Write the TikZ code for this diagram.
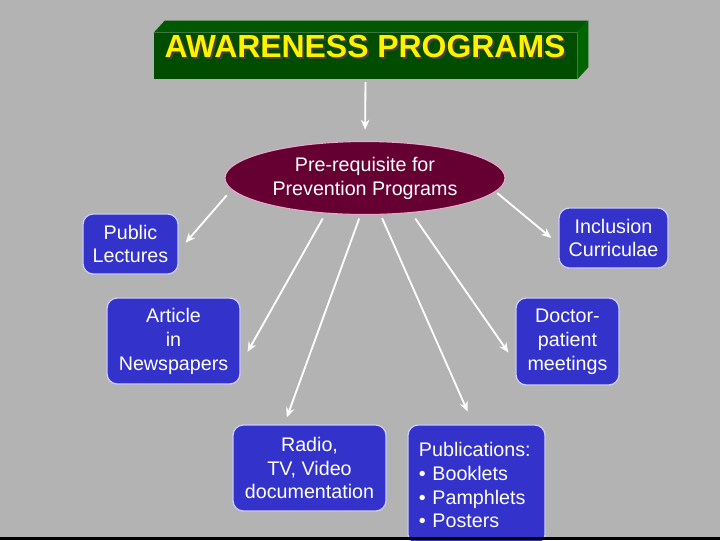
\documentclass[tikz,border=0pt]{standalone}
\usepackage{fontspec}
\setmainfont{Liberation Sans}
\usepackage{tikz}
\usetikzlibrary{shapes.geometric, arrows.meta, calc, positioning}
\definecolor{slideGray}{RGB}{179,179,179}
\definecolor{progBlue}{RGB}{51,51,204}
\definecolor{progRim}{RGB}{204,204,255}
\definecolor{preMaroon}{RGB}{102,0,51}
\definecolor{preRim}{RGB}{230,170,200}
\definecolor{titleFront}{RGB}{0,77,0}
\definecolor{titleTop}{RGB}{0,88,0}
\definecolor{titleSide}{RGB}{0,100,0}
\tikzset{
    >={Stealth[length=7pt, width=6pt]}, % arrow heads
    x=0.025cm, y=-0.025cm, % one unit is one pixel of the slide, y downwards
    prog/.style={
            draw=progRim,
            fill=progBlue,
            line width=0.9pt,
            rounded corners=2.6mm, % radius of the rounded corners
            text=white,
            align=center,
            inner sep=0pt,
            font=\fontsize{14}{17}\selectfont
        },
    link/.style={
            ->,
            draw=white,
            line width=1.3pt
        },
    headline/.style={
            font=\fontsize{22.7}{27}\selectfont\bfseries,
            inner sep=0pt
        }
}

\begin{document}
\begin{tikzpicture}
                \useasboundingbox (0,0) rectangle (720,540);
                \fill[slideGray] (0,0) rectangle (720,540);

                % title block
                \node[fill=titleFront, minimum width=10.575cm, minimum height=1.15cm, inner sep=0pt] (title) at (365.5,56) {};
                \fill[titleTop] (title.north west) -- ++(11,-12) -- ($(title.north east)+(11,-12)$) -- (title.north east) -- cycle;
                \fill[titleSide] (title.north east) -- ++(11,-12) -- ($(title.south east)+(11,-12)$) -- (title.south east) -- cycle;
                \node[headline, text=black!75] (titleshadow) at (367,49) {AWARENESS PROGRAMS};
                \node[headline, text=yellow] (titletext) at (365,47) {AWARENESS PROGRAMS};

                % nodes
                \node[ellipse, draw=preRim, fill=preMaroon, line width=0.8pt, minimum width=7cm, minimum height=1.825cm, inner sep=0pt, text=white, align=center, font=\fontsize{14}{17}\selectfont] (pre) at (365,178) {Pre-requisite for\\Prevention Programs};
                \node[prog, minimum width=2.375cm, minimum height=1.5cm] (pub) at (130.5,244) {Public\\Lectures};
                \node[prog, minimum width=3.325cm, minimum height=2.15cm] (art) at (173.5,341) {Article\\in\\Newspapers};
                \node[prog, minimum width=2.725cm, minimum height=1.5cm] (inc) at (613.5,238) {Inclusion\\Curriculae};
                \node[prog, minimum width=2.575cm, minimum height=2.175cm] (doc) at (567.5,341.5) {Doctor-\\patient\\meetings};
                \node[prog, minimum width=3.825cm, minimum height=2.15cm] (rad) at (309.5,468) {Radio,\\TV, Video\\documentation};
                \node[prog, align=left, inner xsep=0.275cm, text width=2.875cm, minimum height=3cm] (pubs) at (476.5,485) {Publications:\\• Booklets\\• Pamphlets\\• Posters};

                \fill[black] (0,537) rectangle (720,540);

                % edges
                \draw[link, shorten <=2pt, shorten >=8pt] (title.south) -- (pre.north);
                \draw[link, shorten <=5.3pt, shorten >=7.6pt] (pre.185) -- (pub.-8);
                \draw[link, shorten <=4pt, shorten >=10pt] (pre.222) -- (art.-19);
                \draw[link, shorten <=2.6pt, shorten >=5.3pt] (pre.263) -- (rad.120);
                \draw[link, shorten <=2.5pt, shorten >=10pt] (pre.293) -- (pubs.93);
                \draw[link, shorten <=4.8pt, shorten >=8.7pt] (pre.323) -- (doc.202);
                \draw[link, shorten <=1.5pt, shorten >=6.6pt] (pre.354.5) -- (inc.186);

        \end{tikzpicture}
\end{document}
